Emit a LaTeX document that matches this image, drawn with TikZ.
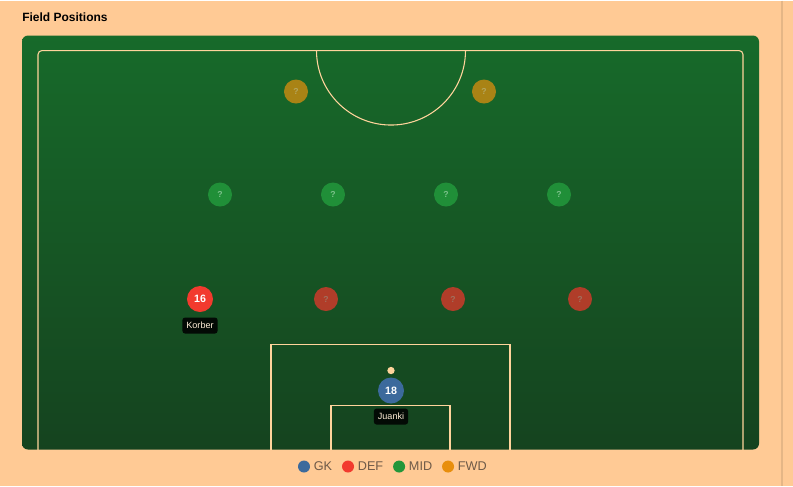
\documentclass[tikz,border=0pt]{standalone}
\usepackage{fontspec}
\setmainfont{Liberation Sans}
\usepackage{tikz}
\usetikzlibrary{positioning}

\definecolor{peach}{HTML}{FFCA95}
\definecolor{pitchtop}{HTML}{176A2A}
\definecolor{pitchbot}{HTML}{15431F}
\definecolor{chalk}{HTML}{FFD49C}
\definecolor{gkcol}{HTML}{3C6A9C}
\definecolor{defcol}{HTML}{F23A2E}
\definecolor{midcol}{HTML}{22963A}
\definecolor{fwdcol}{HTML}{E88E0C}
\definecolor{legendtext}{HTML}{6E5A48}

\begin{document}
\begin{tikzpicture}[
    x=0.75pt, y=-0.75pt,
    every node/.style={inner sep=0pt},
    slot/.style={circle,minimum size=18pt,font=\fontsize{6.5}{7}\selectfont\bfseries},
    fwdslot/.style={slot,fill=fwdcol!70!pitchtop,text=fwdcol!60!pitchtop!70!white},
    midslot/.style={slot,fill=midcol!85!pitchtop,text=midcol!60!white},
    defslot/.style={slot,fill=defcol!70!pitchbot,text=defcol!50!pitchbot!75!white},
    player/.style={circle,minimum size=19.5pt,text=white,font=\fontsize{8}{9}\selectfont\bfseries},
    tag/.style={fill=black!85!pitchbot,rounded corners=2pt,inner xsep=3pt,inner ysep=3.5pt,
        text=chalk!40!white,font=\fontsize{6.8}{7}\selectfont},
    keydot/.style={circle,minimum size=9pt},
    keytext/.style={text=legendtext,font=\fontsize{9.5}{10}\selectfont,anchor=west},
    chalkline/.style={draw=chalk,line width=0.8pt}
]

% background and frame
\fill[peach] (0,0) rectangle (793,485);
\draw[peach!90!black,line width=0.8pt] (782,0) -- (782,485);
\node[anchor=west,font=\fontsize{9}{10}\selectfont\bfseries] (title) at (22,17) {Field Positions};

% pitch
\shade[top color=pitchtop,bottom color=pitchbot,rounded corners=4.5pt] (22,35) rectangle (759,449);
\begin{scope}
  \clip (22,35) rectangle (759,449);
  \draw[chalkline,rounded corners=3pt] (38,460) -- (38,50) -- (743,50) -- (743,460);
  \draw[chalkline] (316.5,50) arc[start angle=180,end angle=0,radius=74.5];
  \draw[chalkline] (271,460) -- (271,344) -- (510,344) -- (510,460);
  \draw[chalkline] (331,460) -- (331,404.5) -- (450,404.5) -- (450,460);
\end{scope}

% forwards
\node[fwdslot] (fwd1) at (296,91) {?};
\node[fwdslot] (fwd2) at (484,91) {?};

% midfield
\node[midslot] (mid1) at (220,194) {?};
\node[midslot] (mid2) at (333,194) {?};
\node[midslot] (mid3) at (446,194) {?};
\node[midslot] (mid4) at (559,194) {?};

% defence
\node[player,fill=defcol] (def1) at (200,298.5) {16};
\node[tag] (def1tag) at (200,325) {Korber};
\node[defslot] (def2) at (326,298.5) {?};
\node[defslot] (def3) at (453,298.5) {?};
\node[defslot] (def4) at (580,298.5) {?};

% keeper
\node[circle,fill=chalk,minimum size=5.5pt] (spot) at (391,370) {};
\node[player,fill=gkcol] (gk) at (391,390) {18};
\node[tag] (gktag) at (391,416) {Juanki};

% legend
\node[keydot,fill=gkcol] (kgk) at (304,466) {};
\node[keytext,right=2.5pt of kgk] (kgktxt) {GK};
\node[keydot,fill=defcol,right=7pt of kgktxt] (kdef) {};
\node[keytext,right=2.5pt of kdef] (kdeftxt) {DEF};
\node[keydot,fill=midcol,right=7pt of kdeftxt] (kmid) {};
\node[keytext,right=2.5pt of kmid] (kmidtxt) {MID};
\node[keydot,fill=fwdcol,right=7pt of kmidtxt] (kfwd) {};
\node[keytext,right=2.5pt of kfwd] (kfwdtxt) {FWD};

\end{tikzpicture}
\end{document}
